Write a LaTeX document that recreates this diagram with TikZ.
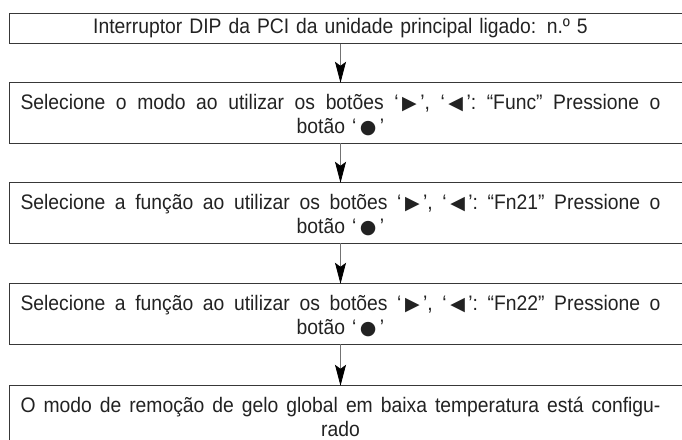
\documentclass[tikz,border=0pt]{standalone}
\usepackage{fontspec}
\setmainfont{Liberation Sans}[FakeStretch=0.92]
\newfontfamily\symfont{DejaVu Sans}
\usetikzlibrary{arrows.meta}
\newcommand{\sym}[1]{{\symfont\fontsize{19}{19}\selectfont\raisebox{-0.5pt}{#1}}}
\newcommand{\tri}{\,\sym{▶}\,}
\newcommand{\tle}{\,\sym{◀}\,}
\newcommand{\dotb}{\,\sym{●}\,}
\newcommand{\fl}[1]{\hbox to 640pt{\frenchspacing\spaceskip=\fontdimen2\font plus 1fil\relax #1}}
\definecolor{ink}{HTML}{222222}
\begin{document}
\begin{tikzpicture}[x=1pt,y=-1pt,
  txt/.style={text=ink, align=center, text width=670pt, inner sep=0pt,
    font=\fontsize{21}{24}\selectfont},
  one/.style={txt, minimum height=30pt},
  two/.style={txt, minimum height=60pt},
  box/.style={draw=ink!90, line width=0.9pt},
  arr/.style={draw=black!55, line width=0.8pt,
    -{Stealth[length=21pt,width=11pt,inset=4pt,color=black]}}]
\useasboundingbox (0,0) rectangle (682,439);
\coordinate (L) at (9.5,0);
\coordinate (R) at (700,0);
\node[one] (b1) at (340.5,28.5) {Interruptor DIP da PCI da unidade principal ligado: n.º 5};
\node[two] (b2) at (340.5,115) {\fl{Selecione o modo ao utilizar os botões ‘\tri’, ‘\tle’: “Func” Pressione o}\\botão ‘\dotb’};
\node[two] (b3) at (340.5,215) {\fl{Selecione a função ao utilizar os botões ‘\tri’, ‘\tle’: “Fn21” Pressione o}\\botão ‘\dotb’};
\node[two] (b4) at (340.5,316) {\fl{Selecione a função ao utilizar os botões ‘\tri’, ‘\tle’: “Fn22” Pressione o}\\botão ‘\dotb’};
\node[two] (b5) at (340.5,417) {\fl{O modo de remoção de gelo global em baixa temperatura está configu-}\\rado};
\draw[box] (L |- b1.north) rectangle (R |- b1.south);
\foreach \b in {b2,b3,b4}{
  \draw[box] ([yshift=2pt]L |- \b.north) rectangle ([yshift=2pt]R |- \b.south);
}
\draw[box] ([yshift=1pt]L |- b5.north) rectangle ([yshift=1pt]R |- b5.south);
\draw[arr] (b1.south) -- ([yshift=2pt]b2.north);
\draw[arr] ([yshift=2pt]b2.south) -- ([yshift=2pt]b3.north);
\draw[arr] ([yshift=2pt]b3.south) -- ([yshift=2pt]b4.north);
\draw[arr] ([yshift=2pt]b4.south) -- ([yshift=1pt]b5.north);
\end{tikzpicture}
\end{document}
